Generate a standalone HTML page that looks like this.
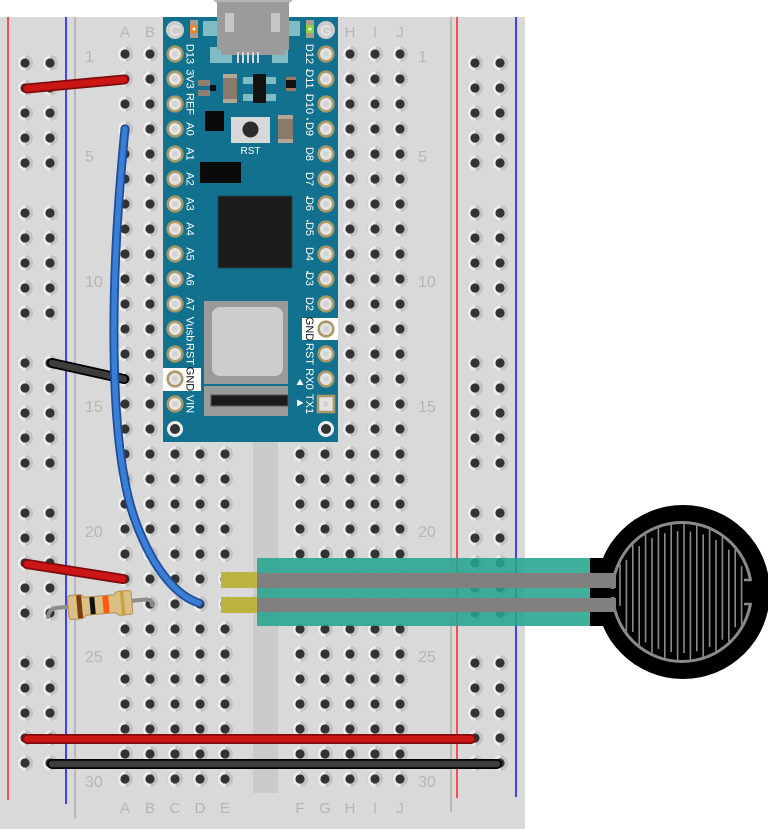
<!DOCTYPE html>
<html><head><meta charset="utf-8"><style>
html,body{margin:0;padding:0;background:#fff;}
svg{display:block;}
text{font-family:"Liberation Sans",Arial,sans-serif;}
</style></head><body>
<svg width="768" height="829" viewBox="0 0 768 829" xmlns="http://www.w3.org/2000/svg">
<defs>
<g id="h"><circle r="8" fill="#c3c3c3"/><path d="M0.5,-8 A8,8 0 0,0 0.5,8 Z" fill="#ececec"/><circle r="4.6" fill="#333"/></g>
<pattern id="pm" x="12.5" y="41.5" width="25" height="25" patternUnits="userSpaceOnUse"><use href="#h" x="12.5" y="12.5"/></pattern>
<pattern id="pr" x="12.5" y="50.5" width="25" height="25" patternUnits="userSpaceOnUse"><use href="#h" x="12.5" y="12.5"/></pattern>
<g id="pin"><circle r="7.3" fill="#e3e3e3" stroke="#ab9968" stroke-width="2.6"/><rect x="-2.5" y="-2.5" width="5" height="5" fill="#d2d2d2"/></g>
</defs>

<!-- breadboard -->
<rect x="0" y="17" width="525" height="812" fill="#d9d9d9"/>
<rect x="253" y="17" width="25" height="776" fill="#cbcbcb"/>
<line x1="8" y1="17" x2="8" y2="800" stroke="#ff2a2a" stroke-width="1.6"/>
<line x1="66" y1="17" x2="66" y2="804" stroke="#1a1aff" stroke-width="1.6"/>
<line x1="75" y1="17" x2="75" y2="819" stroke="#b8b8b8" stroke-width="2"/>
<line x1="451" y1="17" x2="451" y2="812" stroke="#b8b8b8" stroke-width="2"/>
<line x1="457" y1="17" x2="457" y2="798" stroke="#ff2a2a" stroke-width="1.6"/>
<line x1="516" y1="17" x2="516" y2="797" stroke="#1a1aff" stroke-width="1.6"/>

<!-- holes -->
<rect x="112.5" y="41.5" width="125" height="750" fill="url(#pm)"/>
<rect x="287.5" y="41.5" width="125" height="750" fill="url(#pm)"/>
<rect x="12.5" y="50.5" width="50" height="125" fill="url(#pr)"/>
<rect x="12.5" y="200.5" width="50" height="125" fill="url(#pr)"/>
<rect x="12.5" y="350.5" width="50" height="125" fill="url(#pr)"/>
<rect x="12.5" y="500.5" width="50" height="125" fill="url(#pr)"/>
<rect x="12.5" y="650.5" width="50" height="125" fill="url(#pr)"/>
<rect x="462.5" y="50.5" width="50" height="125" fill="url(#pr)"/>
<rect x="462.5" y="200.5" width="50" height="125" fill="url(#pr)"/>
<rect x="462.5" y="350.5" width="50" height="125" fill="url(#pr)"/>
<rect x="462.5" y="500.5" width="50" height="125" fill="url(#pr)"/>
<rect x="462.5" y="650.5" width="50" height="125" fill="url(#pr)"/>

<!-- labels -->
<g fill="#b6b6b6" font-size="16">
<text x="85" y="62">1</text><text x="85" y="162">5</text><text x="85" y="287">10</text><text x="85" y="412">15</text><text x="85" y="537">20</text><text x="85" y="662">25</text><text x="85" y="787">30</text>
<text x="418" y="62">1</text><text x="418" y="162">5</text><text x="418" y="287">10</text><text x="418" y="412">15</text><text x="418" y="537">20</text><text x="418" y="662">25</text><text x="418" y="787">30</text>
</g>
<g fill="#b6b6b6" font-size="15" text-anchor="middle">
<text x="125" y="37">A</text><text x="150" y="37">B</text><text x="350" y="37">H</text><text x="375" y="37">I</text><text x="400" y="37">J</text>
<text x="125" y="813">A</text><text x="150" y="813">B</text><text x="175" y="813">C</text><text x="200" y="813">D</text><text x="225" y="813">E</text>
<text x="300" y="813">F</text><text x="325" y="813">G</text><text x="350" y="813">H</text><text x="375" y="813">I</text><text x="400" y="813">J</text>
</g>

<!-- Arduino Nano -->
<rect x="163" y="17" width="175" height="425" fill="#11718f"/>
<rect x="163" y="368" width="38" height="23" fill="#fff"/>
<rect x="302" y="318" width="36" height="22" fill="#fff"/>
<g fill="#80bcc4">
<rect x="203" y="21" width="14" height="15"/><rect x="289" y="21" width="11" height="15"/>
<rect x="210" y="47" width="22" height="16"/><rect x="272" y="47" width="16" height="16"/>
<rect x="243" y="77" width="10" height="7"/><rect x="243" y="94" width="10" height="7"/>
<rect x="266" y="77" width="10" height="7"/><rect x="266" y="94" width="10" height="7"/>
</g>
<path d="M213,0 L218,4 L288,4 L293,0 Z" fill="#b5b5b5"/>
<rect x="217" y="2" width="72" height="48" fill="#9b9b9b"/>
<rect x="221" y="48" width="64" height="7" fill="#9b9b9b"/>
<rect x="225" y="13" width="9" height="19" fill="#c6c6c6"/>
<rect x="271" y="13" width="9" height="19" fill="#c6c6c6"/>
<g fill="#d6d6d6"><rect x="237" y="52" width="2" height="11"/><rect x="242" y="52" width="2" height="11"/><rect x="247" y="52" width="2" height="11"/><rect x="252" y="52" width="2" height="11"/><rect x="257" y="52" width="2" height="11"/></g>
<!-- LEDs -->
<rect x="190" y="20" width="8" height="18" fill="#a89c8c"/><rect x="190" y="25" width="8" height="8" fill="#e8852c"/><circle cx="194" cy="29" r="1.5" fill="#fff"/>
<rect x="306" y="20" width="8" height="18" fill="#a89c8c"/><rect x="306" y="25" width="8" height="8" fill="#8fd33a"/><circle cx="310" cy="29" r="1.5" fill="#fff"/>
<!-- C/G circles -->
<circle cx="175" cy="30" r="9" fill="#cdcdcd"/><text x="175" y="35.5" font-size="15" fill="#ededed" text-anchor="middle">C</text>
<circle cx="326" cy="30" r="9" fill="#cdcdcd"/><text x="326" y="35.5" font-size="15" fill="#ededed" text-anchor="middle">G</text>
<!-- small parts -->
<rect x="198" y="80" width="12" height="6" fill="#8c7f72"/><rect x="198" y="90" width="12" height="6" fill="#8c7f72"/>
<rect x="210" y="85" width="6" height="6" fill="#111"/>
<rect x="223" y="74" width="14" height="29" fill="#8a7a6c"/><rect x="223" y="74" width="14" height="4" fill="#b5a796"/><rect x="223" y="99" width="14" height="4" fill="#b5a796"/>
<rect x="253" y="74" width="13" height="29" fill="#111"/>
<rect x="286" y="77" width="10" height="14" fill="#111"/><rect x="286" y="77" width="10" height="3" fill="#9b7b5b"/><rect x="286" y="88" width="10" height="3" fill="#9b7b5b"/>
<rect x="205" y="111" width="19" height="20" fill="#0a0a0a"/>
<rect x="231" y="117" width="39" height="26" fill="#d8d8d8"/><circle cx="250.5" cy="129.5" r="8" fill="#2b2b2b"/>
<text x="250.5" y="154" font-size="10" fill="#fff" text-anchor="middle">RST</text>
<rect x="278" y="115" width="15" height="28" fill="#8a7a6c"/><rect x="278" y="115" width="15" height="4" fill="#b5a796"/><rect x="278" y="139" width="15" height="4" fill="#b5a796"/>
<rect x="200" y="162" width="41" height="21" fill="#0a0a0a"/>
<rect x="218" y="196" width="74" height="72" fill="#1c1c1c" stroke="#284550" stroke-width="1"/>
<rect x="204" y="301" width="84" height="83" fill="#9a9a9a"/>
<rect x="212" y="307" width="71" height="69" rx="8" fill="#cdcdcd"/>
<rect x="204" y="386" width="84" height="30" fill="#9a9a9a"/>
<rect x="211" y="395" width="77" height="11" fill="#1a1a1a" stroke="#555" stroke-width="1"/>
<!-- pins -->
<use href="#pin" x="175" y="54"/><use href="#pin" x="175" y="79"/><use href="#pin" x="175" y="104"/><use href="#pin" x="175" y="129"/><use href="#pin" x="175" y="154"/>
<use href="#pin" x="175" y="179"/><use href="#pin" x="175" y="204"/><use href="#pin" x="175" y="229"/><use href="#pin" x="175" y="254"/><use href="#pin" x="175" y="279"/>
<use href="#pin" x="175" y="304"/><use href="#pin" x="175" y="329"/><use href="#pin" x="175" y="354"/><use href="#pin" x="175" y="379"/><use href="#pin" x="175" y="404"/>
<use href="#pin" x="326" y="54"/><use href="#pin" x="326" y="79"/><use href="#pin" x="326" y="104"/><use href="#pin" x="326" y="129"/><use href="#pin" x="326" y="154"/>
<use href="#pin" x="326" y="179"/><use href="#pin" x="326" y="204"/><use href="#pin" x="326" y="229"/><use href="#pin" x="326" y="254"/><use href="#pin" x="326" y="279"/>
<use href="#pin" x="326" y="304"/><use href="#pin" x="326" y="329"/><use href="#pin" x="326" y="354"/><use href="#pin" x="326" y="379"/>
<rect x="318" y="396" width="16" height="16" fill="#e3e3e3" stroke="#ab9968" stroke-width="2.6"/><rect x="323.5" y="401.5" width="5" height="5" fill="#d2d2d2"/>
<circle cx="175" cy="429" r="8" fill="#eee"/><circle cx="175" cy="429" r="5" fill="#333"/>
<circle cx="326" cy="429" r="8" fill="#eee"/><circle cx="326" cy="429" r="5" fill="#333"/>
<!-- pin labels -->
<g font-size="11" fill="#fff" text-anchor="middle">
<text transform="translate(186.5,54) rotate(90)">D13</text>
<text transform="translate(186.5,79) rotate(90)">3V3</text>
<text transform="translate(186.5,104) rotate(90)">REF</text>
<text transform="translate(186.5,129) rotate(90)">A0</text>
<text transform="translate(186.5,154) rotate(90)">A1</text>
<text transform="translate(186.5,179) rotate(90)">A2</text>
<text transform="translate(186.5,204) rotate(90)">A3</text>
<text transform="translate(186.5,229) rotate(90)">A4</text>
<text transform="translate(186.5,254) rotate(90)">A5</text>
<text transform="translate(186.5,279) rotate(90)">A6</text>
<text transform="translate(186.5,304) rotate(90)">A7</text>
<text transform="translate(186.5,329) rotate(90)">Vusb</text>
<text transform="translate(186.5,354) rotate(90)">RST</text>
<text transform="translate(186.5,379) rotate(90)" fill="#111">GND</text>
<text transform="translate(186.5,404) rotate(90)">VIN</text>
<text transform="translate(306,54) rotate(90)">D12</text>
<text transform="translate(306,79) rotate(90)">D11</text>
<text transform="translate(306,104) rotate(90)">D10</text>
<text transform="translate(306,129) rotate(90)">D9</text>
<text transform="translate(306,154) rotate(90)">D8</text>
<text transform="translate(306,179) rotate(90)">D7</text>
<text transform="translate(306,204) rotate(90)">D6</text>
<text transform="translate(306,229) rotate(90)">D5</text>
<text transform="translate(306,254) rotate(90)">D4</text>
<text transform="translate(306,279) rotate(90)">D3</text>
<text transform="translate(306,304) rotate(90)">D2</text>
<text transform="translate(306,329) rotate(90)" fill="#111">GND</text>
<text transform="translate(306,354) rotate(90)">RST</text>
<text transform="translate(306,379) rotate(90)">RX0</text>
<text transform="translate(306,404) rotate(90)">TX1</text>
</g>
<g fill="#fff">
<circle cx="307.5" cy="70" r="1"/><circle cx="307.5" cy="95" r="1"/><circle cx="307.5" cy="119" r="1"/>
<circle cx="307.5" cy="197" r="1"/><circle cx="307.5" cy="221" r="1"/><circle cx="307.5" cy="272" r="1"/>
<polygon points="296.5,385 303.5,385 300,379"/>
<polygon points="297,399.5 297,406.5 303.5,403"/>
</g>

<!-- FSR -->
<rect x="221" y="572" width="37" height="16" fill="#bcb23f"/>
<rect x="221" y="597" width="37" height="16" fill="#bcb23f"/>
<rect x="257" y="558" width="335" height="68" fill="#25a58f" opacity="0.88"/>
<rect x="590" y="558" width="40" height="68" fill="#000"/>
<circle cx="683" cy="592" r="87" fill="#000"/>
<circle cx="682" cy="592" r="69.5" fill="none" stroke="#8a8a8a" stroke-width="3"/>
<rect x="745" y="581" width="12" height="22" fill="#000"/>
<rect x="606" y="589" width="12" height="8" fill="#000"/>
<path d="M751,580 L744,580 M751,604 L744,604" stroke="#8a8a8a" stroke-width="2.5"/>
<rect x="257" y="573" width="359" height="15" fill="#808080"/>
<rect x="257" y="598" width="359" height="14" fill="#808080"/>
<g stroke="#8a8a8a" stroke-width="1.6">
<line x1="620" y1="564.1" x2="620" y2="605.9"/>
<line x1="626.4" y1="559.8" x2="626.4" y2="631.2"/>
<line x1="632.8" y1="545.1" x2="632.8" y2="631.9"/>
<line x1="639.2" y1="546.2" x2="639.2" y2="644.8"/>
<line x1="645.6" y1="534.6" x2="645.6" y2="642.4"/>
<line x1="652" y1="538" x2="652" y2="653"/>
<line x1="658.4" y1="528.2" x2="658.4" y2="648.8"/>
<line x1="664.8" y1="533.2" x2="664.8" y2="657.8"/>
<line x1="671.2" y1="524.9" x2="671.2" y2="652.1"/>
<line x1="677.6" y1="531.1" x2="677.6" y2="659.9"/>
<line x1="684" y1="524" x2="684" y2="653"/>
<line x1="690.4" y1="531.5" x2="690.4" y2="659.5"/>
<line x1="696.8" y1="525.6" x2="696.8" y2="651.4"/>
<line x1="703.2" y1="534.4" x2="703.2" y2="656.6"/>
<line x1="709.6" y1="529.9" x2="709.6" y2="647.1"/>
<line x1="716" y1="540.1" x2="716" y2="650.9"/>
<line x1="722.4" y1="537.3" x2="722.4" y2="639.7"/>
<line x1="728.8" y1="549.7" x2="728.8" y2="641.3"/>
<line x1="735.2" y1="549.6" x2="735.2" y2="627.4"/>
<line x1="741.6" y1="566.3" x2="741.6" y2="624.7"/>
</g>

<!-- resistor -->
<path d="M48,617 Q49,609 56,608 L72,606.5" fill="none" stroke="#8c8c8c" stroke-width="4" stroke-linecap="round"/>
<path d="M128,601 L147,599.5 Q152,599.5 152,605" fill="none" stroke="#8c8c8c" stroke-width="4" stroke-linecap="round"/>
<g transform="translate(100,605) rotate(-5)">
<path d="M-32,-9 Q-32,-12 -29,-12 L-20,-12 Q-17,-12 -15,-9 L15,-9 Q17,-12 20,-12 L29,-12 Q32,-12 32,-9 L32,9 Q32,12 29,12 L20,12 Q17,12 15,9 L-15,9 Q-17,12 -20,12 L-29,12 Q-32,12 -32,9 Z" fill="#dcbf83" stroke="#b08d4f" stroke-width="1"/>
<rect x="-23" y="-11.5" width="5" height="23" fill="#7a3b10"/>
<rect x="-10" y="-8.5" width="5" height="17" fill="#111"/>
<rect x="3" y="-8.5" width="6" height="17" fill="#ff5a10"/>
<rect x="21" y="-11.5" width="3.5" height="23" fill="#c9a444"/>
</g>

<!-- wires -->
<g stroke-linecap="round" fill="none">
<line x1="27" y1="88.5" x2="124" y2="79.5" stroke="#7e0c0c" stroke-width="10"/>
<line x1="27" y1="88.5" x2="124" y2="79.5" stroke="#cc1616" stroke-width="6.5"/>
<line x1="52" y1="363" x2="124" y2="379" stroke="#000" stroke-width="10"/>
<line x1="52" y1="363" x2="124" y2="379" stroke="#3d3d3d" stroke-width="6.5"/>
<line x1="27" y1="564" x2="123" y2="579" stroke="#7e0c0c" stroke-width="10"/>
<line x1="27" y1="564" x2="123" y2="579" stroke="#cc1616" stroke-width="6.5"/>
<path d="M125,129 C108,300 110,450 135,520 C155,575 180,597 199,603" stroke="#1d4f98" stroke-width="9"/>
<path d="M125,129 C108,300 110,450 135,520 C155,575 180,597 199,603" stroke="#3a7ed6" stroke-width="5.5"/>
<line x1="27" y1="739" x2="471" y2="739" stroke="#7e0c0c" stroke-width="10"/>
<line x1="27" y1="739" x2="471" y2="739" stroke="#cc1616" stroke-width="6.5"/>
<line x1="52" y1="764" x2="497" y2="764" stroke="#000" stroke-width="10"/>
<line x1="52" y1="764" x2="497" y2="764" stroke="#3d3d3d" stroke-width="6.5"/>
</g>
</svg>
</body></html>
